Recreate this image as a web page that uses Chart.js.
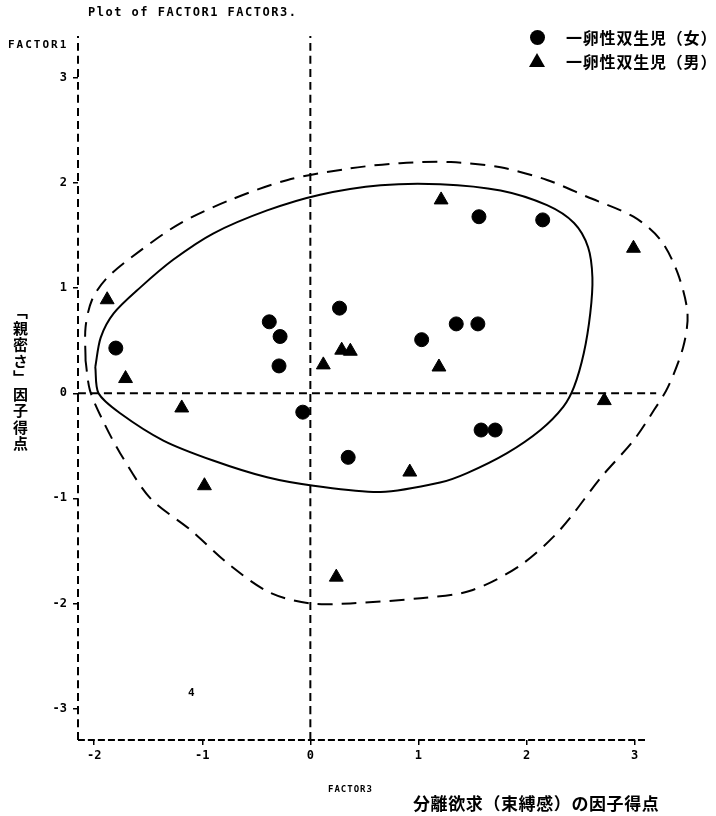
<!DOCTYPE html>
<html>
<head>
<meta charset="utf-8">
<script src="https://cdn.jsdelivr.net/npm/chart.js@4/dist/chart.umd.min.js"></script>
<style>
  body { margin: 0; background: #fff; }
  #wrap { position: relative; width: 716px; height: 816px; }
  .t { position: absolute; color: #000; white-space: nowrap; line-height: 1; }
  .mono { font-family: "DejaVu Sans Mono", monospace; font-weight: bold; }
  .jp { font-family: "Noto Sans CJK JP", sans-serif; font-weight: bold; }
  .dot { position: absolute; width: 15px; height: 15px; border-radius: 50%; background: #000; }
  .tri { position: absolute; width: 0; height: 0; border-left: 8px solid transparent; border-right: 8px solid transparent; border-bottom: 14px solid #000; }
</style>
</head>
<body>
<div id="wrap">
  <canvas id="plot" width="716" height="816"></canvas>
  <div class="t mono" style="left:88px; top:6px; font-size:12px; letter-spacing:1.5px;">Plot of FACTOR1 FACTOR3.</div>
  <div class="t mono" style="left:8px; top:39px; font-size:11px; letter-spacing:2px;">FACTOR1</div>
  <div class="t mono" style="left:328px; top:785px; font-size:9px; letter-spacing:1px;">FACTOR3</div>
  <div class="t mono" style="left:188px; top:687px; font-size:11px;">4</div>
  <div class="t jp" style="left:13px; top:304px; font-size:15px; writing-mode:vertical-rl; letter-spacing:1.5px;">「親密さ」因子得点</div>
  <div class="t jp" style="left:413px; top:794px; font-size:17px; letter-spacing:0.6px;">分離欲求（束縛感）の因子得点</div>
  <div id="legend"></div>
</div>
<script>
// series labels
const seriesLabels = ['一卵性双生児（女）', '一卵性双生児（男）'];

// 一卵性双生児（女） : circles
const femaleX = [-1.80, -0.38, -0.28, -0.29, 0.27, -0.07, 0.35, 1.03, 1.35, 1.55, 1.56, 2.15, 1.58, 1.71];
const femaleY = [0.43, 0.68, 0.54, 0.26, 0.81, -0.18, -0.61, 0.51, 0.66, 0.66, 1.68, 1.65, -0.35, -0.35];

// 一卵性双生児（男） : triangles
const maleX = [-1.88, -1.71, -1.19, -0.98, 0.12, 0.29, 0.37, 0.92, 0.24, 1.21, 1.19, 2.72, 2.99];
const maleY = [0.89, 0.14, -0.14, -0.88, 0.27, 0.41, 0.40, -0.75, -1.75, 1.84, 0.25, -0.07, 1.38];

// hand drawn contours (solid inner, dashed outer)
const innerX = [-1.99, -1.94, -1.82, -1.57, -1.27, -0.90, -0.40, 0.09, 0.65, 1.20, 1.76, 2.19, 2.44, 2.57, 2.61, 2.59, 2.53, 2.44, 2.34, 2.13, 1.82, 1.45, 1.20, 0.65, 0.03, -0.40, -0.90, -1.36, -1.76, -1.96, -1.99];
const innerY = [0.25, 0.53, 0.76, 1.01, 1.27, 1.52, 1.74, 1.89, 1.98, 1.99, 1.93, 1.79, 1.62, 1.39, 1.10, 0.76, 0.38, 0.06, -0.13, -0.35, -0.57, -0.76, -0.85, -0.94, -0.88, -0.80, -0.64, -0.45, -0.19, 0.00, 0.25];
const outerX = [-2.08, -2.08, -2.02, -1.88, -1.57, -1.20, -0.74, -0.21, 0.37, 0.83, 1.30, 1.76, 2.19, 2.56, 2.99, 3.24, 3.40, 3.49, 3.45, 3.31, 3.18, 2.99, 2.69, 2.31, 1.94, 1.48, 1.02, 0.37, 0.00, -0.37, -0.74, -1.11, -1.48, -1.76, -1.92, -2.04, -2.08];
const outerY = [0.31, 0.63, 0.89, 1.10, 1.36, 1.62, 1.84, 2.03, 2.14, 2.19, 2.20, 2.15, 2.03, 1.87, 1.68, 1.46, 1.14, 0.76, 0.44, 0.06, -0.16, -0.45, -0.80, -1.30, -1.64, -1.88, -1.95, -2.00, -2.00, -1.90, -1.64, -1.30, -1.00, -0.57, -0.26, 0.03, 0.31];

// tick labels
const xTicks = [-2, -1, 0, 1, 2, 3];
const yTicks = [-3, -2, -1, 0, 1, 2, 3];

const xMin = -2.15, xMax = 3.55, yMin = -3.3, yMax = 3.4;

function pts(xs, ys) {
    return xs.map((x, i) => ({x: x, y: ys[i]}));
}

function lineSet(data, dash, width) {
    return {
        data: data,
        showLine: true,
        borderColor: '#000',
        borderWidth: width,
        borderDash: dash,
        pointRadius: 0,
        pointHoverRadius: 0,
        tension: 0.3,
        fill: false,
        clip: false
    };
}

// legend built from the series labels
const legend = document.getElementById('legend');
seriesLabels.forEach((lab, i) => {
    const cy = i === 0 ? 37 : 61;
    const mark = document.createElement('div');
    if (i === 0) {
        mark.className = 'dot';
        mark.style.left = '530px';
        mark.style.top = (cy - 7) + 'px';
    } else {
        mark.className = 'tri';
        mark.style.left = '529px';
        mark.style.top = (cy - 8) + 'px';
    }
    legend.appendChild(mark);
    const txt = document.createElement('div');
    txt.className = 't jp';
    txt.style.left = '566px';
    txt.style.top = (cy - 8) + 'px';
    txt.style.fontSize = '16px';
    txt.style.letterSpacing = '0.8px';
    txt.textContent = lab;
    legend.appendChild(txt);
});

const tickFont = {family: 'DejaVu Sans Mono', size: 12, weight: 'bold'};

new Chart(document.getElementById('plot').getContext('2d'), {
    type: 'scatter',
    data: {
        datasets: [
            lineSet(pts(innerX, innerY), [], 2),
            lineSet(pts(outerX, outerY), [15, 9], 2),
            lineSet([{x: xMin, y: 0}, {x: 3.2, y: 0}], [8, 5], 2),
            lineSet([{x: 0, y: yMin}, {x: 0, y: yMax}], [8, 5], 2),
            lineSet([{x: xMin, y: yMin}, {x: 3.1, y: yMin}], [7, 3], 2),
            lineSet([{x: xMin, y: yMin}, {x: xMin, y: yMax}], [8, 5], 2),
            {
                label: seriesLabels[0],
                data: pts(femaleX, femaleY),
                pointStyle: 'circle',
                pointRadius: 7,
                backgroundColor: '#000',
                borderColor: '#000'
            },
            {
                label: seriesLabels[1],
                data: pts(maleX, maleY),
                pointStyle: 'triangle',
                pointRadius: 8,
                backgroundColor: '#000',
                borderColor: '#000'
            }
        ]
    },
    options: {
        responsive: false,
        animation: false,
        layout: {padding: {left: 0, right: 22, top: 36, bottom: 46}},
        plugins: {legend: {display: false}, tooltip: {enabled: false}},
        scales: {
            x: {
                type: 'linear',
                min: xMin,
                max: xMax,
                afterBuildTicks: s => { s.ticks = xTicks.map(v => ({value: v})); },
                afterFit: s => { s.height = 30; },
                grid: {drawOnChartArea: false, tickLength: 5, color: '#000', lineWidth: 1.5},
                border: {display: false},
                ticks: {color: '#000', font: tickFont, padding: 4}
            },
            y: {
                type: 'linear',
                min: yMin,
                max: yMax,
                afterBuildTicks: s => { s.ticks = yTicks.map(v => ({value: v})); },
                afterFit: s => { s.width = 78; },
                grid: {drawOnChartArea: false, tickLength: 5, color: '#000', lineWidth: 1.5},
                border: {display: false},
                ticks: {color: '#000', font: tickFont, padding: 6}
            }
        }
    }
});
</script>
</body>
</html>
